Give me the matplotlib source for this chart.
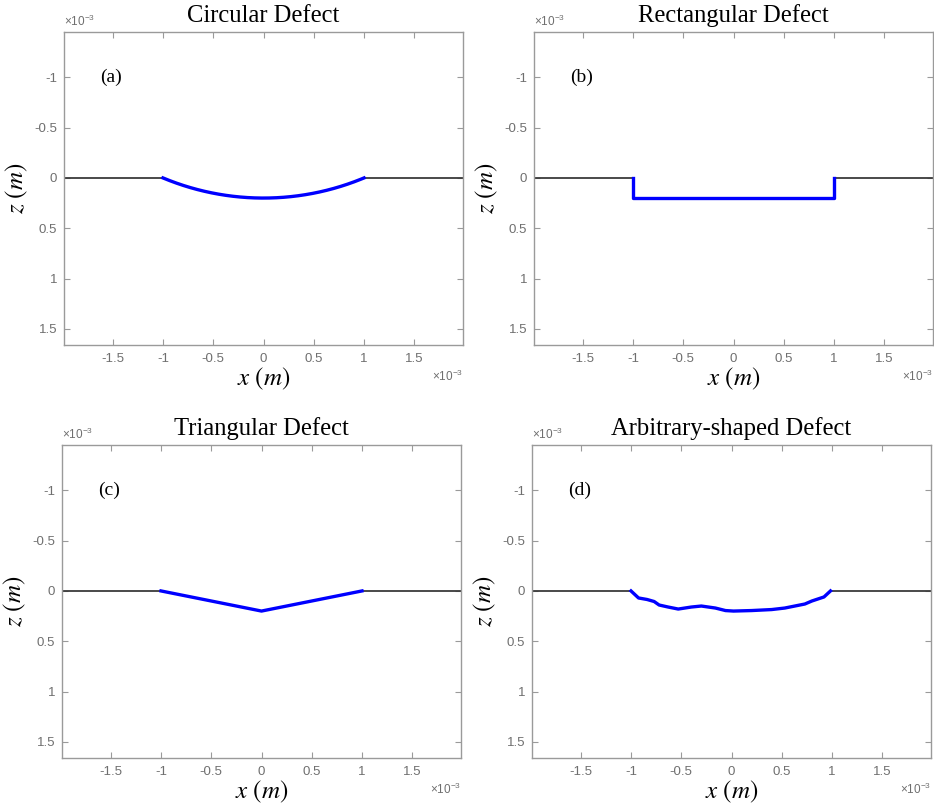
import numpy as np
import matplotlib
matplotlib.use("Agg")
import matplotlib.pyplot as plt

plt.rcParams['mathtext.fontset'] = 'stix'

# ---- data (units: 1e-3 m) ----
titles = ["Circular Defect", "Rectangular Defect", "Triangular Defect", "Arbitrary-shaped Defect"]
panel_tags = ["(a)", "(b)", "(c)", "(d)"]
x_ticks = [-1.5, -1, -0.5, 0, 0.5, 1, 1.5]
y_ticks = [-1, -0.5, 0, 0.5, 1, 1.5]
surface_left_x = [-2.0, -1.0]
surface_right_x = [1.0, 2.0]
surface_z = [0.0, 0.0]

# circular defect: arc through (-1,0), (0,0.2), (1,0)
circ_half_width = 1.0
circ_depth = 0.2

rect_x = [-1.0, -1.0, 1.0, 1.0]
rect_z = [0.0, 0.2, 0.2, 0.0]

tri_x = [-1.0, 0.0, 1.0]
tri_z = [0.0, 0.2, 0.0]

arb_x = [-1.0, -0.925, -0.84, -0.77, -0.72, -0.63, -0.53, -0.40, -0.30, -0.16, -0.06,
         0.02, 0.20, 0.40, 0.53, 0.73, 0.80, 0.92, 0.985]
arb_z = [0.0, 0.07, 0.085, 0.105, 0.14, 0.16, 0.18, 0.16, 0.15, 0.17, 0.195,
         0.20, 0.195, 0.185, 0.17, 0.13, 0.10, 0.06, 0.0]

R = (circ_half_width**2 + circ_depth**2) / (2 * circ_depth)
th = np.linspace(-np.arcsin(circ_half_width / R), np.arcsin(circ_half_width / R), 200)
circ_x = R * np.sin(th)
circ_z = R * np.cos(th) - (R - circ_depth)

defects = [(circ_x, circ_z), (rect_x, rect_z), (tri_x, tri_z), (arb_x, arb_z)]

W, H = 934, 809
fig = plt.figure(figsize=(W / 100, H / 100), dpi=100)

boxes = [(64, 32), (534, 32), (62, 445), (532, 445)]
aw, ah = 399, 313

grey_txt = '#6f6f6f'
grey_spine = '#9a9a9a'
s = 1e-3

for i, (l, t) in enumerate(boxes):
    ax = fig.add_axes([l / W, 1 - (t + ah) / H, aw / W, ah / H])
    ax.plot(np.array(surface_left_x) * s, np.array(surface_z) * s, color='#3a3a3a', lw=1.3)
    ax.plot(np.array(surface_right_x) * s, np.array(surface_z) * s, color='#3a3a3a', lw=1.3)
    dx, dz = defects[i]
    ax.plot(np.array(dx) * s, np.array(dz) * s, color='#0000ff', lw=2.4, solid_joinstyle='round')
    ax.set_xlim(-1.985e-3, 1.985e-3)
    ax.set_ylim(1.66e-3, -1.45e-3)
    ax.set_xticks(np.array(x_ticks) * s)
    ax.set_xticklabels([f"{v:g}" for v in x_ticks])
    ax.set_yticks(np.array(y_ticks) * s)
    ax.set_yticklabels([f"{v:g}" for v in y_ticks])
    ax.tick_params(axis='x', pad=6)
    ax.tick_params(axis='y', pad=5)
    ax.tick_params(direction='in', top=True, right=True, length=4, width=0.8,
                   colors=grey_spine, labelcolor=grey_txt, labelsize=9.5)
    for lab in ax.get_xticklabels() + ax.get_yticklabels():
        lab.set_family('Liberation Sans')
    for sp in ax.spines.values():
        sp.set_color(grey_spine)
        sp.set_linewidth(1.0)
    ax.set_title(titles[i], family='Liberation Serif', fontsize=17.7, pad=7)
    ax.set_xlabel(r'$x\ (m)$', fontsize=18, labelpad=0)
    ax.set_ylabel(r'$z\ (m)$', fontsize=18, labelpad=3)
    ax.text(-1.63e-3, -1.0e-3, panel_tags[i], family='Liberation Serif', fontsize=14,
            va='center', ha='left')
    ax.text(0.0, 1.008, r'$\mathregular{\times10^{-3}}$', transform=ax.transAxes, fontsize=8.5,
            color=grey_txt, ha='left', va='bottom', family='Liberation Sans')
    ax.text(1.0, -0.075, r'$\mathregular{\times10^{-3}}$', transform=ax.transAxes, fontsize=8.5,
            color=grey_txt, ha='right', va='top', family='Liberation Sans')

fig.savefig('out.png', dpi=100)
